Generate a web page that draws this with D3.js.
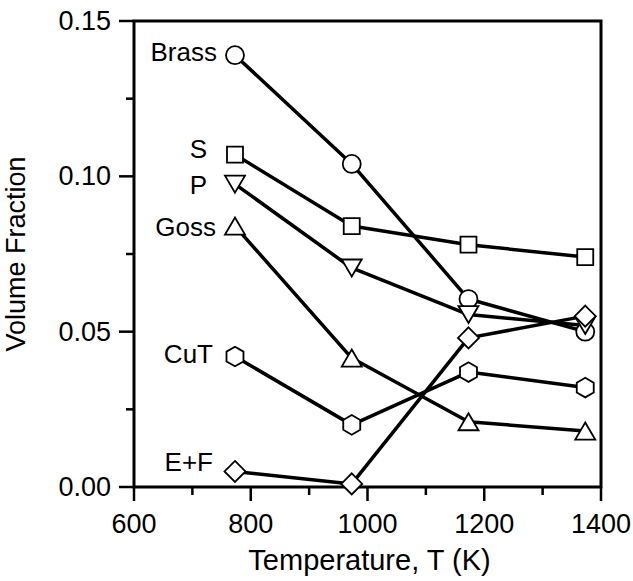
<!DOCTYPE html>
<html>
<head>
<meta charset="utf-8">
<script src="https://cdn.jsdelivr.net/npm/d3@7"></script>
<style>
  body { margin: 0; background: #fff; }
  text { font-family: "Liberation Sans", Arial, sans-serif; fill: #000; }
</style>
</head>
<body>
<div id="chart"></div>
<script>
// width and height
var w = 633;
var h = 581;

// data
var temps = [773, 973, 1173, 1373];
var seriesNames = ["Brass", "S", "P", "Goss", "CuT", "E+F"];
var brass = [0.139, 0.104, 0.0605, 0.050];
var sComp = [0.107, 0.084, 0.078, 0.074];
var pComp = [0.0975, 0.0705, 0.0555, 0.052];
var goss = [0.084, 0.0415, 0.021, 0.018];
var cuT = [0.042, 0.020, 0.037, 0.032];
var eF = [0.005, 0.001, 0.048, 0.055];
var xTicks = [600, 800, 1000, 1200, 1400];
var xMinorTicks = [700, 900, 1100, 1300];
var yTicks = [0, 0.05, 0.10, 0.15];
var yMinorTicks = [0.025, 0.075, 0.125];

var values = [brass, sComp, pComp, goss, cuT, eF];

// marker + label style per series
var styles = [
  {shape: "circle",   ldx: -18, ldy: 6},
  {shape: "square",   ldx: -28, ldy: 3},
  {shape: "triDown",  ldx: -28, ldy: 10},
  {shape: "triUp",    ldx: -19, ldy: 10},
  {shape: "hexagon",  ldx: -22, ldy: 6},
  {shape: "diamond",  ldx: -22, ldy: 0}
];

// plot area
var pLeft = 134, pRight = 601, pTop = 21, pBottom = 487;

var x = d3.scaleLinear().domain([600, 1400]).range([pLeft, pRight]);
var y = d3.scaleLinear().domain([0, 0.15]).range([pBottom, pTop]);

// marker paths, centred on 0,0
function symbolPath(shape) {
  var p = d3.path();
  var i, a;
  if (shape == "circle") {
    p.arc(0, 0, 9, 0, 2 * Math.PI);
  } else if (shape == "square") {
    p.rect(-8, -8, 16, 16);
  } else if (shape == "triUp") {
    p.moveTo(0, -8.5); p.lineTo(10, 8.5); p.lineTo(-10, 8.5); p.closePath();
  } else if (shape == "triDown") {
    p.moveTo(0, 8.5); p.lineTo(10, -8.5); p.lineTo(-10, -8.5); p.closePath();
  } else if (shape == "hexagon") {
    for (i = 0; i < 6; i++) {
      a = Math.PI / 3 * i - Math.PI / 2;
      if (i == 0) p.moveTo(9.8 * Math.cos(a), 9.8 * Math.sin(a));
      else p.lineTo(9.8 * Math.cos(a), 9.8 * Math.sin(a));
    }
    p.closePath();
  } else if (shape == "diamond") {
    p.moveTo(0, -10.5); p.lineTo(10.5, 0); p.lineTo(0, 10.5); p.lineTo(-10.5, 0); p.closePath();
  }
  return p.toString();
}

var svg = d3.select("#chart")
  .append("svg")
  .attr("width", w)
  .attr("height", h);

// ticks (outside, left and bottom)
svg.append("g").selectAll("line")
  .data(xTicks)
  .enter()
  .append("line")
  .attr("x1", function(d) { return x(d); })
  .attr("x2", function(d) { return x(d); })
  .attr("y1", pBottom)
  .attr("y2", pBottom + 14)
  .attr("stroke", "black")
  .attr("stroke-width", 2.5);

svg.append("g").selectAll("line")
  .data(xMinorTicks)
  .enter()
  .append("line")
  .attr("x1", function(d) { return x(d); })
  .attr("x2", function(d) { return x(d); })
  .attr("y1", pBottom)
  .attr("y2", pBottom + 8)
  .attr("stroke", "black")
  .attr("stroke-width", 2.5);

svg.append("g").selectAll("line")
  .data(yTicks)
  .enter()
  .append("line")
  .attr("x1", pLeft - 15)
  .attr("x2", pLeft)
  .attr("y1", function(d) { return y(d); })
  .attr("y2", function(d) { return y(d); })
  .attr("stroke", "black")
  .attr("stroke-width", 2.5);

svg.append("g").selectAll("line")
  .data(yMinorTicks)
  .enter()
  .append("line")
  .attr("x1", pLeft - 8)
  .attr("x2", pLeft)
  .attr("y1", function(d) { return y(d); })
  .attr("y2", function(d) { return y(d); })
  .attr("stroke", "black")
  .attr("stroke-width", 2.5);

// tick labels
svg.append("g").selectAll("text")
  .data(xTicks)
  .enter()
  .append("text")
  .text(function(d) { return d; })
  .attr("x", function(d) { return x(d); })
  .attr("y", 533)
  .attr("text-anchor", "middle")
  .attr("font-size", "27px");

svg.append("g").selectAll("text")
  .data(yTicks)
  .enter()
  .append("text")
  .text(function(d) { return d3.format(".2f")(d); })
  .attr("x", 111)
  .attr("y", function(d) { return y(d) + 9; })
  .attr("text-anchor", "end")
  .attr("font-size", "27px");

// axis titles
svg.append("text")
  .text("Temperature, T (K)")
  .attr("x", (pLeft + pRight) / 2 + 2)
  .attr("y", 570)
  .attr("text-anchor", "middle")
  .attr("font-size", "29px");

svg.append("text")
  .text("Volume Fraction")
  .attr("transform", "translate(25," + (pTop + pBottom) / 2 + ") rotate(-90)")
  .attr("text-anchor", "middle")
  .attr("font-size", "27px");

// frame
svg.append("rect")
  .attr("x", pLeft)
  .attr("y", pTop)
  .attr("width", pRight - pLeft)
  .attr("height", pBottom - pTop)
  .attr("fill", "none")
  .attr("stroke", "black")
  .attr("stroke-width", 3);

// lines
var line = d3.line()
  .x(function(d, i) { return x(temps[i]); })
  .y(function(d) { return y(d); });

svg.append("g").selectAll("path")
  .data(values)
  .enter()
  .append("path")
  .attr("d", line)
  .attr("fill", "none")
  .attr("stroke", "black")
  .attr("stroke-width", 3.5)
  .attr("stroke-linejoin", "round");

// markers
var groups = svg.append("g").selectAll("g")
  .data(values)
  .enter()
  .append("g");

groups.selectAll("path")
  .data(function(d, k) {
    return d.map(function(v, i) { return {t: temps[i], v: v, k: k}; });
  })
  .enter()
  .append("path")
  .attr("d", function(d) { return symbolPath(styles[d.k].shape); })
  .attr("transform", function(d) {
    return "translate(" + x(d.t) + "," + y(d.v) + ")";
  })
  .attr("fill", "white")
  .attr("stroke", "black")
  .attr("stroke-width", 1.8);

// series labels next to first point
svg.append("g").selectAll("text")
  .data(values)
  .enter()
  .append("text")
  .text(function(d, k) { return seriesNames[k]; })
  .attr("x", function(d, k) { return x(temps[0]) + styles[k].ldx; })
  .attr("y", function(d, k) { return y(d[0]) + styles[k].ldy; })
  .attr("text-anchor", "end")
  .attr("font-size", "26px");
</script>
</body>
</html>
